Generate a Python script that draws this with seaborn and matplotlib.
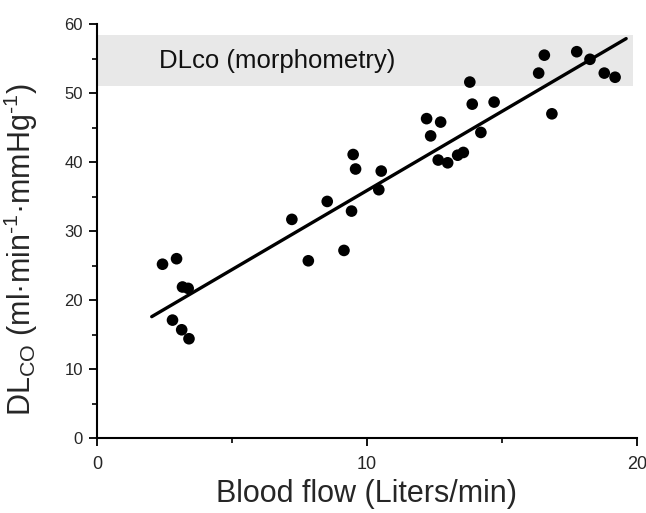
import seaborn as sns
import matplotlib.pyplot as plt
import pandas as pd
from matplotlib.ticker import MultipleLocator

# data
blood_flow = [2.43, 2.95, 3.17, 3.38, 2.80, 3.14, 3.41,
              9.49, 9.58, 10.53, 10.44, 8.53, 7.22, 9.43, 9.15, 7.83,
              13.81, 13.90, 14.71, 12.21, 12.73, 12.36, 14.22, 12.64, 12.99, 13.36, 13.57,
              16.57, 16.36, 17.77, 18.26, 16.85, 18.79, 19.19]
dlco = [25.2, 26.0, 21.9, 21.7, 17.1, 15.7, 14.4,
        41.1, 39.0, 38.7, 36.0, 34.3, 31.7, 32.9, 27.2, 25.7,
        51.6, 48.4, 48.7, 46.3, 45.8, 43.8, 44.3, 40.3, 39.9, 41.0, 41.4,
        55.5, 52.9, 56.0, 54.9, 47.0, 52.9, 52.3]
fit_x = [2.03, 19.6]
fit_y = [17.6, 57.9]
morpho_low, morpho_high = 51.0, 58.4

df = pd.DataFrame({"flow": blood_flow, "dlco": dlco})
fit = pd.DataFrame({"flow": fit_x, "dlco": fit_y})

sns.set_style("ticks")
plt.rcParams["font.family"] = ["Liberation Sans", "DejaVu Sans"]
plt.rcParams["mathtext.default"] = "regular"

fig = plt.figure(figsize=(6.46, 5.13), dpi=100)
ax = fig.add_axes([0.150, 0.146, 0.836, 0.807])

ax.axhspan(morpho_low, morpho_high, xmin=0, xmax=0.993, color="#e8e8e8", lw=0, zorder=0)
ax.text(2.3, 54.6, "DLco (morphometry)", fontsize=18.5, va="center", ha="left", color="#111111")

sns.lineplot(data=fit, x="flow", y="dlco", color="black", lw=2.4, ax=ax, zorder=2)
sns.scatterplot(data=df, x="flow", y="dlco", color="black", s=70, edgecolor="none", ax=ax, zorder=3)

ax.set_xlim(0, 20)
ax.set_ylim(0, 60)
ax.xaxis.set_major_locator(MultipleLocator(10))
ax.xaxis.set_minor_locator(MultipleLocator(5))
ax.yaxis.set_major_locator(MultipleLocator(10))
ax.yaxis.set_minor_locator(MultipleLocator(5))
ax.tick_params(which="major", length=6, width=1.3, color="black")
ax.tick_params(which="minor", length=3.5, width=1.2, color="black")
ax.tick_params(axis="x", labelsize=13, pad=7)
ax.tick_params(axis="y", labelsize=12, pad=4)

for side in ["top", "right"]:
    ax.spines[side].set_visible(False)
for side in ["left", "bottom"]:
    ax.spines[side].set_linewidth(1.5)
    ax.spines[side].set_color("black")

ax.set_xlabel("Blood flow (Liters/min)", fontsize=22, labelpad=4)
ax.set_ylabel("DL$_{CO}$ (ml·min$^{\u20101}$·mmHg$^{\u20101}$)", fontsize=22)
ax.yaxis.set_label_coords(-0.106, 0.455)

fig.savefig("out.png", dpi=100)
plt.close()
